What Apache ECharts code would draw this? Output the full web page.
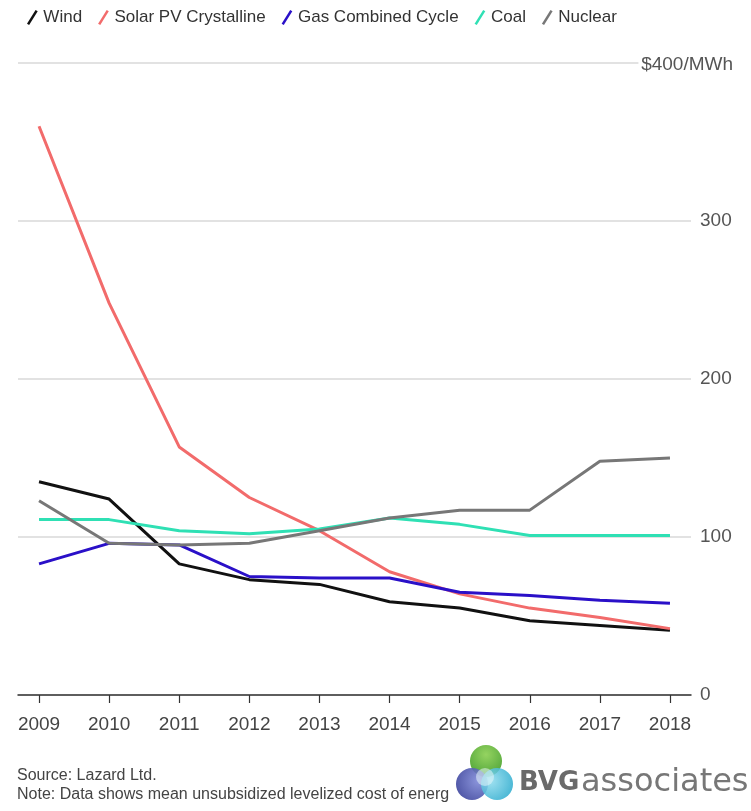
<!DOCTYPE html>
<html>
<head>
<meta charset="utf-8">
<script src="https://cdn.jsdelivr.net/npm/echarts@6/dist/echarts.min.js"></script>
<style>
html,body{margin:0;padding:0;background:#fff;}
#chart{width:751px;height:811px;}
</style>
</head>
<body>
<div id="chart"></div>
<script>
const years = [2009, 2010, 2011, 2012, 2013, 2014, 2015, 2016, 2017, 2018];
const wind = [135, 124, 83, 73, 70, 59, 55, 47, 44, 41];
const solar = [360, 248, 157, 125, 104, 78, 64, 55, 49, 42];
const gas = [83, 96, 95, 75, 74, 74, 65, 63, 60, 58];
const coal = [111, 111, 104, 102, 105, 112, 108, 101, 101, 101];
const nuclear = [123, 96, 95, 96, 104, 112, 117, 117, 148, 150];
const yTicks = [0, 100, 200, 300, 400];
const seriesNames = ['Wind', 'Solar PV Crystalline', 'Gas Combined Cycle', 'Coal', 'Nuclear'];
const sourceText = 'Source: Lazard Ltd.';
const noteText = 'Note: Data shows mean unsubsidized levelized cost of energ';

const colors = ['#111111', '#f26b6b', '#2a10c8', '#2fe0b4', '#777777'];
const FONT = '"Liberation Sans", Arial, sans-serif';
const pairs = arr => years.map((y, i) => [y, arr[i]]);
const slash = 'path://M8,0 L10,1.2 L2,14 L0,12.8 Z';

const allData = [wind, solar, gas, coal, nuclear];
const series = seriesNames.map((name, i) => ({
  name: name,
  type: 'line',
  data: pairs(allData[i]),
  symbol: 'none',
  color: colors[i],
  lineStyle: { color: colors[i], width: 3 },
  itemStyle: { color: colors[i] },
  z: 3 + i,
  silent: true
}));
series[0].markLine = {
  silent: true,
  symbol: 'none',
  label: { show: false },
  lineStyle: { color: '#e2e2e2', width: 2, type: 'solid' },
  data: [[{ coord: [2008.7, 400] }, { coord: [2017.55, 400] }]]
};

const chart = echarts.init(document.getElementById('chart'), null, { renderer: 'canvas' });
chart.setOption({
  backgroundColor: '#ffffff',
  animation: false,
  textStyle: { fontFamily: FONT },
  legend: {
    left: 22,
    top: 4,
    icon: slash,
    itemWidth: 12,
    itemHeight: 15,
    itemGap: 16,
    textStyle: { fontSize: 17, color: '#333', fontFamily: FONT },
    data: seriesNames
  },
  grid: { left: 18, right: 60, top: 63, bottom: 116, containLabel: false },
  xAxis: {
    type: 'value',
    min: 2008.7,
    max: 2018.3,
    axisLine: { show: true, lineStyle: { color: '#333', width: 1.5 } },
    axisTick: { show: true, length: 8, lineStyle: { color: '#333', width: 1.2 }, customValues: years },
    axisLabel: { color: '#444', fontSize: 19, margin: 20, fontFamily: FONT, customValues: years, formatter: v => String(v) },
    splitLine: { show: false }
  },
  yAxis: {
    type: 'value',
    position: 'right',
    min: 0,
    max: 400,
    interval: 100,
    axisLine: { show: false },
    axisTick: { show: false },
    axisLabel: { color: '#555', fontSize: 19, margin: 9, fontFamily: FONT, formatter: v => (v === 400 ? '' : String(v)) },
    splitLine: { show: true, lineStyle: { color: ['#e2e2e2', '#e2e2e2', '#e2e2e2', '#e2e2e2', 'rgba(0,0,0,0)'], width: 2 } }
  },
  series: series,
  graphic: [
    { type: 'text', x: 733, y: 65, style: { text: '$' + yTicks[4] + '/MWh', font: '19px ' + FONT, fill: '#555', align: 'right', verticalAlign: 'middle' } },
    { type: 'text', x: 17, y: 776, style: { text: sourceText, font: '16px ' + FONT, fill: '#444', verticalAlign: 'middle' } },
    { type: 'text', x: 17, y: 795, style: { text: noteText, font: '16px ' + FONT, fill: '#444', verticalAlign: 'middle' } },
    { type: 'circle', shape: { cx: 486, cy: 761, r: 16 }, style: { fill: new echarts.graphic.RadialGradient(0.5, 0.3, 0.8, [{ offset: 0, color: '#8fd158' }, { offset: 1, color: '#3f9a2a' }]), opacity: 0.95 }, z: 10 },
    { type: 'circle', shape: { cx: 472, cy: 784, r: 16 }, style: { fill: new echarts.graphic.RadialGradient(0.7, 0.4, 0.9, [{ offset: 0, color: '#7f8ad8' }, { offset: 1, color: '#2e3590' }]), opacity: 0.9 }, z: 11 },
    { type: 'circle', shape: { cx: 497, cy: 784, r: 16 }, style: { fill: new echarts.graphic.RadialGradient(0.3, 0.4, 0.9, [{ offset: 0, color: '#8fdcee' }, { offset: 1, color: '#139fc6' }]), opacity: 0.85 }, z: 12 },
    { type: 'circle', shape: { cx: 485, cy: 777, r: 9 }, style: { fill: 'rgba(230,245,250,0.55)' }, z: 13 },
    { type: 'text', x: 519, y: 783, style: { text: 'BVG', font: 'bold 26px "DejaVu Sans", sans-serif', fill: '#6a6a6a', verticalAlign: 'middle' }, z: 10 },
    { type: 'text', x: 581, y: 783, style: { text: 'associates', font: '32px "DejaVu Sans", sans-serif', fill: '#777', verticalAlign: 'middle' }, z: 10 }
  ]
});
</script>
</body>
</html>
